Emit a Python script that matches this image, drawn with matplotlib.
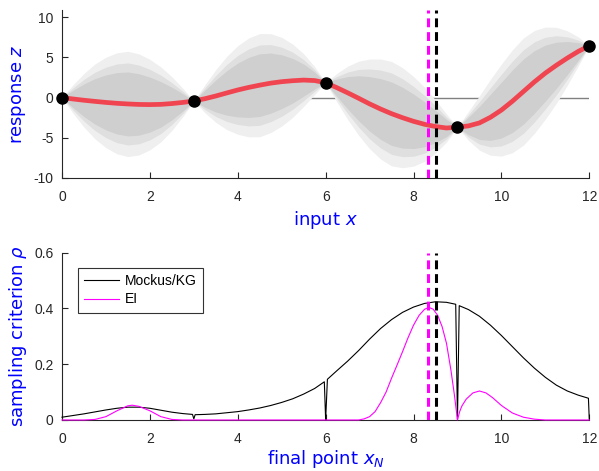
import matplotlib
matplotlib.use("Agg")
import matplotlib.pyplot as plt
import numpy as np

# ---------------- data ----------------
x_grid = [0.0, 0.25, 0.5, 0.75, 1.0, 1.25, 1.5, 1.75, 2.0, 2.25, 2.5, 2.75,
          3.0, 3.25, 3.5, 3.75, 4.0, 4.25, 4.5, 4.75, 5.0, 5.25, 5.5, 5.75,
          6.0, 6.25, 6.5, 6.75, 7.0, 7.25, 7.5, 7.75, 8.0, 8.25, 8.5, 8.75,
          9.0, 9.25, 9.5, 9.75, 10.0, 10.25, 10.5, 10.75, 11.0, 11.25, 11.5, 11.75,
          12.0]
gp_mean = [0.0, -0.17, -0.33, -0.47, -0.6, -0.71, -0.79, -0.85, -0.87, -0.84, -0.74, -0.6,
           -0.42, -0.14, 0.2, 0.58, 0.95, 1.27, 1.55, 1.8, 1.98, 2.1, 2.18, 2.12,
           1.85, 1.25, 0.6, -0.08, -0.78, -1.42, -2.0, -2.5, -2.95, -3.32, -3.6, -3.78,
           -3.68, -3.52, -3.15, -2.45, -1.55, -0.45, 0.75, 1.95, 3.05, 4.02, 4.92, 5.75,
           6.45]
gp_sigma = [0.0, 1.07, 2.03, 2.83, 3.42, 3.82, 3.98, 3.82, 3.42, 2.83, 2.03, 1.07,
            0.0, 1.05, 1.99, 2.77, 3.35, 3.74, 3.9, 3.74, 3.35, 2.77, 1.99, 1.05,
            0.0, 1.06, 2.01, 2.8, 3.39, 3.78, 3.95, 3.78, 3.39, 2.8, 2.01, 1.06,
            0.0, 1.09, 2.06, 2.87, 3.48, 3.89, 4.05, 3.89, 3.48, 2.87, 2.06, 1.09,
            0.0]
band_factors = [1.645, 1.2816, 1.0]          # outer, middle, inner band
band_colors = ["#efefef", "#dfdfdf", "#cfcfcf"]

obs_x = [0, 3, 6, 9, 12]
obs_z = [0.0, -0.42, 1.85, -3.68, 6.45]

ei_best_x = 8.34
kg_best_x = 8.51

kg_x = [0.0, 0.25, 0.5, 0.75, 1.0, 1.25, 1.5, 1.75, 2.0, 2.25, 2.5, 2.75, 2.97,
        3.0, 3.03, 3.25, 3.5, 3.75, 4.0, 4.25, 4.5, 4.75, 5.0, 5.25, 5.5, 5.75, 5.97,
        6.0, 6.04, 6.25, 6.5, 6.75, 7.0, 7.25, 7.5, 7.75, 8.0, 8.25, 8.5, 8.75, 8.96,
        9.0, 9.04, 9.25, 9.5, 9.75, 10.0, 10.25, 10.5, 10.75, 11.0, 11.25, 11.5, 11.75, 11.98,
        12.0]
kg_rho = [0.010, 0.016, 0.022, 0.029, 0.036, 0.042, 0.046, 0.046, 0.042, 0.035, 0.028, 0.023, 0.020,
          0.004, 0.019, 0.020, 0.022, 0.026, 0.030, 0.036, 0.043, 0.052, 0.063, 0.076, 0.093, 0.113, 0.137,
          0.0, 0.146, 0.176, 0.211, 0.249, 0.290, 0.328, 0.360, 0.386, 0.405, 0.418, 0.424, 0.422, 0.415,
          0.0, 0.410, 0.396, 0.372, 0.340, 0.303, 0.263, 0.223, 0.186, 0.153, 0.125, 0.104, 0.089, 0.078,
          0.0]

ei_x = [0.0, 0.5, 0.75, 1.0, 1.25, 1.5, 1.6, 1.75, 2.0, 2.25, 2.5, 2.75, 3.0,
        6.0, 6.75, 6.875, 7.0, 7.125, 7.25, 7.375, 7.5, 7.625, 7.75, 7.875, 8.0, 8.125,
        8.25, 8.35, 8.45, 8.55, 8.65, 8.75, 8.85, 8.93,
        9.0, 9.05, 9.1, 9.2, 9.35, 9.5, 9.65, 9.8, 10.0, 10.25, 10.5, 10.75, 11.0, 12.0]
ei_rho = [0.0, 0.0, 0.002, 0.012, 0.033, 0.051, 0.053, 0.049, 0.033, 0.012, 0.002, 0.0, 0.0,
          0.0, 0.0, 0.004, 0.012, 0.03, 0.062, 0.1, 0.15, 0.197, 0.245, 0.295, 0.34, 0.375,
          0.397, 0.404, 0.397, 0.375, 0.335, 0.275, 0.18, 0.09,
          0.0, 0.03, 0.05, 0.075, 0.097, 0.104, 0.097, 0.080, 0.052, 0.025, 0.010, 0.003, 0.0, 0.0]

# ---------------- style ----------------
plt.rcParams["font.family"] = ["Liberation Sans", "DejaVu Sans"]
plt.rcParams["mathtext.fontset"] = "dejavusans"
plt.rcParams["axes.unicode_minus"] = False
ax_color = "#262626"
label_kw = dict(color="blue", fontsize=13, family="DejaVu Sans")

fig = plt.figure(figsize=(5.99, 4.71), dpi=100)
ax1 = fig.add_axes([0.1035, 0.6221, 0.8803, 0.3567])
ax2 = fig.add_axes([0.1035, 0.1083, 0.8803, 0.3552])

xg = np.array(x_grid)
mu = np.array(gp_mean)
sd = np.array(gp_sigma)

# top panel
ax1.plot([0, 12], [0, 0], color="#808080", lw=1.0, zorder=1)
for f, c in zip(band_factors, band_colors):
    ax1.fill_between(xg, mu - f * sd, mu + f * sd, color=c, lw=0, zorder=2)
ax1.plot(xg, mu, color="#f04450", lw=3.4, zorder=3, solid_capstyle="butt")
ax1.plot(obs_x, obs_z, "o", color="black", ms=8, zorder=5, clip_on=False)

dash = (0, (2.9, 1.6))
for ax in (ax1, ax2):
    ax.axvline(ei_best_x, color="#ff00ff", lw=2.2, ls=dash, zorder=4)
    ax.axvline(kg_best_x, color="black", lw=2.2, ls=dash, zorder=4)

ax1.set_xlim(0, 12)
ax1.set_ylim(-10, 10.9)
ax1.set_yticks([-10, -5, 0, 5, 10])
ax1.set_xticks([0, 2, 4, 6, 8, 10, 12])
ax1.set_xlabel("input $x$", labelpad=3, **label_kw)
ax1.set_ylabel("response $z$", labelpad=4, **label_kw)

# bottom panel
ax2.plot(kg_x, kg_rho, color="black", lw=0.8, label="Mockus/KG", zorder=3, clip_on=False)
ax2.plot(ei_x, ei_rho, color="#ff00ff", lw=0.8, label="EI", zorder=3, clip_on=False)
ax2.set_xlim(0, 12)
ax2.set_ylim(0, 0.6)
ax2.set_yticks([0, 0.2, 0.4, 0.6])
ax2.set_yticklabels(["0", "0.2", "0.4", "0.6"])
ax2.set_xticks([0, 2, 4, 6, 8, 10, 12])
ax2.set_xlabel("final point $x_N$", labelpad=1, **label_kw)
ax2.set_ylabel("sampling criterion $\\rho$", labelpad=4, **label_kw)
leg = ax2.legend(loc="upper left", bbox_to_anchor=(0.0303, 0.9086), borderaxespad=0,
                 fontsize=10, frameon=True, fancybox=False, handlelength=2.52,
                 handletextpad=0.4, labelspacing=0.3, borderpad=0.45)
leg.get_frame().set_edgecolor("black")
leg.get_frame().set_linewidth(0.8)

for ax in (ax1, ax2):
    for s in ("top", "right"):
        ax.spines[s].set_visible(False)
    for s in ("left", "bottom"):
        ax.spines[s].set_color(ax_color)
        ax.spines[s].set_linewidth(0.8)
        ax.spines[s].set_zorder(2.5)
    ax.tick_params(direction="in", length=4, width=0.8, color=ax_color,
                   labelcolor=ax_color, labelsize=10)
    ax.tick_params(axis="x", pad=9)
    ax.tick_params(axis="y", pad=6)
    ax.set_facecolor("white")

fig.savefig("out.png", dpi=100)
